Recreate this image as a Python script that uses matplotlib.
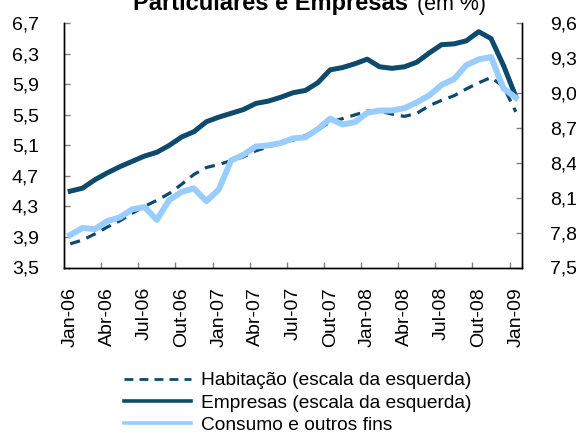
import matplotlib
matplotlib.use("Agg")
import matplotlib.pyplot as plt
from matplotlib.ticker import FixedLocator, FixedFormatter
import numpy as np

plt.rcParams['font.family'] = ['Liberation Sans', 'DejaVu Sans']

tick_labels = ["Jan-06", "Abr-06", "Jul-06", "Out-06", "Jan-07", "Abr-07", "Jul-07",
               "Out-07", "Jan-08", "Abr-08", "Jul-08", "Out-08", "Jan-09"]

habitacao = [3.81, 3.86, 3.94, 4.03, 4.11, 4.21, 4.30, 4.38, 4.47, 4.59,
             4.72, 4.81, 4.85, 4.90, 4.95, 5.03, 5.08, 5.13, 5.17, 5.23,
             5.30, 5.41, 5.45, 5.50, 5.55, 5.55, 5.51, 5.48, 5.52, 5.62,
             5.69, 5.75, 5.84, 5.92, 5.99, 5.87, 5.54]
empresas = [4.50, 4.54, 4.65, 4.74, 4.82, 4.89, 4.96, 5.01, 5.10, 5.21,
            5.28, 5.41, 5.47, 5.52, 5.57, 5.65, 5.68, 5.73, 5.79, 5.82,
            5.92, 6.09, 6.12, 6.17, 6.23, 6.13, 6.11, 6.13, 6.19, 6.31,
            6.42, 6.43, 6.47, 6.59, 6.50, 6.15, 5.74]
consumo = [7.78, 7.84, 7.83, 7.90, 7.93, 8.00, 8.02, 7.91, 8.08, 8.15,
           8.18, 8.07, 8.17, 8.42, 8.47, 8.54, 8.55, 8.57, 8.61, 8.62,
           8.69, 8.78, 8.73, 8.75, 8.83, 8.85, 8.85, 8.87, 8.92, 8.98,
           9.07, 9.12, 9.24, 9.29, 9.31, 9.04, 8.96]

left_ticks = [3.5, 3.9, 4.3, 4.7, 5.1, 5.5, 5.9, 6.3, 6.7]
left_labels = ["3,5", "3,9", "4,3", "4,7", "5,1", "5,5", "5,9", "6,3", "6,7"]
right_ticks = [7.5, 7.8, 8.1, 8.4, 8.7, 9.0, 9.3, 9.6]
right_labels = ["7,5", "7,8", "8,1", "8,4", "8,7", "9,0", "9,3", "9,6"]

dark = "#0d4a6b"
light = "#99ccff"
FS = 14

fig = plt.figure(figsize=(5.76, 4.33), dpi=100)
ax = fig.add_axes([64/576, 1-267.5/433, (522-64)/576, (267.5-23.3)/433])
ax2 = ax.twinx()

x = np.arange(len(empresas))
l1, = ax.plot(x, habitacao, color=dark, lw=2.3, ls=(0, (3.2, 2.2)),
              label="Habitação (escala da esquerda)")
l2, = ax.plot(x, empresas, color=dark, lw=3.6, solid_joinstyle='round',
              label="Empresas (escala da esquerda)")
l3, = ax2.plot(x, consumo, color=light, lw=4.3, solid_joinstyle='round',
               label="Consumo e outros fins")

ax.set_xlim(-0.5, len(empresas) - 0.5)
ax.set_ylim(3.5, 6.7)
ax2.set_ylim(7.5, 9.6)

ax.yaxis.set_major_locator(FixedLocator(left_ticks))
ax.yaxis.set_major_formatter(FixedFormatter(left_labels))
ax2.yaxis.set_major_locator(FixedLocator(right_ticks))
ax2.yaxis.set_major_formatter(FixedFormatter(right_labels))

label_pos = np.arange(0, len(empresas), 3)
ax.xaxis.set_major_locator(FixedLocator(label_pos))
ax.xaxis.set_major_formatter(FixedFormatter(tick_labels))
ax.xaxis.set_minor_locator(FixedLocator(np.arange(2.5, len(empresas) - 1, 3)))

for a in (ax, ax2):
    a.spines['top'].set_visible(False)
    for s in a.spines.values():
        s.set_color('black')
        s.set_linewidth(1.0)

ax.tick_params(axis='x', which='major', length=0, pad=14, labelsize=FS, rotation=90)
ax.tick_params(axis='x', which='minor', direction='in', length=4, color='#808080', width=1)
ax.tick_params(axis='y', direction='in', length=4, color='#808080', width=1, pad=18, labelsize=FS)
ax2.tick_params(axis='y', direction='in', length=4, color='#808080', width=1, pad=20, labelsize=FS)

# Title (partially cut at top, as in the reference)
fig.text(133/576, 1-10/433, "Particulares e Empresas", fontsize=17, fontweight='bold',
         ha='left', va='baseline')
fig.text(417/576, 1-10/433, "(em %)", fontsize=15.5, ha='left', va='baseline')

leg = fig.legend(handles=[l1, l2, l3], loc='upper left',
                 bbox_to_anchor=(124/576, 1-372/433), frameon=False, fontsize=13.8,
                 handlelength=3.5, handletextpad=0.5, labelspacing=0.25,
                 borderaxespad=0, borderpad=0)
for ln, w in zip(leg.get_lines(), [2.0, 2.6, 2.6]):
    ln.set_linewidth(w)

fig.savefig("out.png", dpi=100)
